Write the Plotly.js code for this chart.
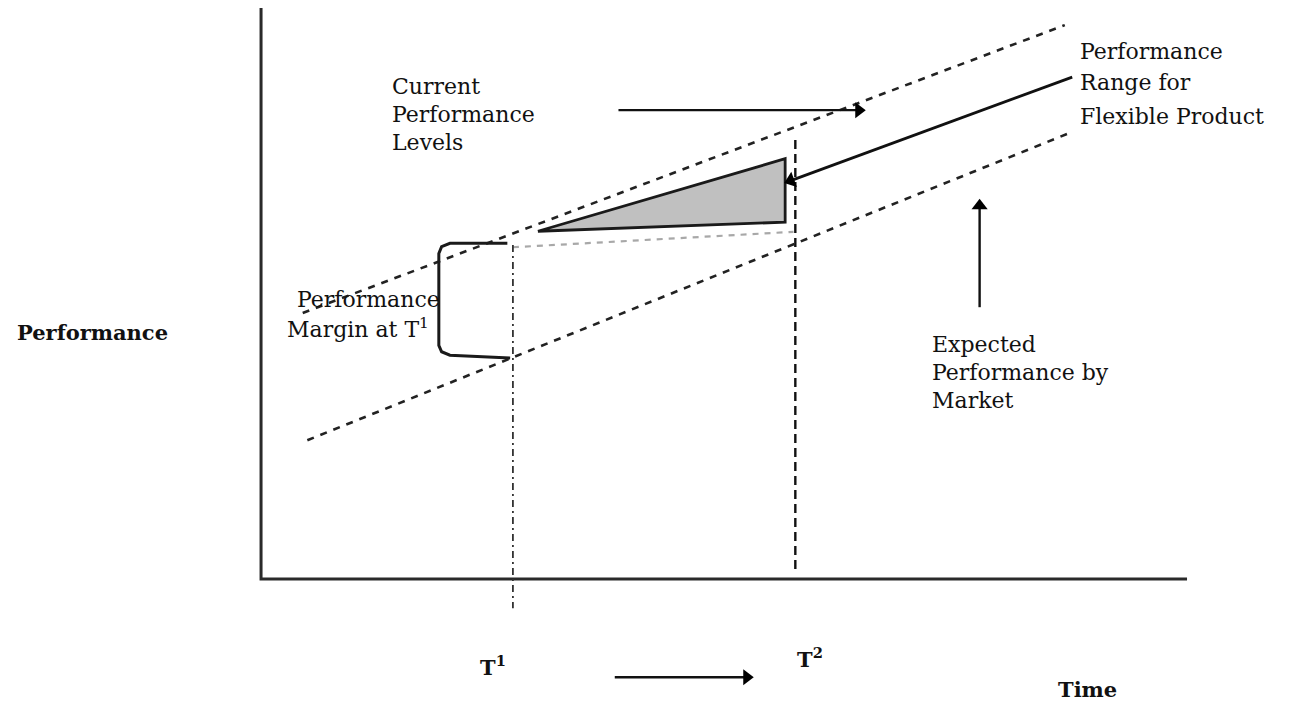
<!DOCTYPE html>
<html><head><meta charset="utf-8">
<script src="https://cdn.plot.ly/plotly-3.0.1.min.js"></script>
<style>html,body{margin:0;padding:0;background:#fff}#chart{width:1295px;height:704px}</style>
</head><body><div id="chart"></div>
<script>
// Diagram coordinates: Time 0-100 (x), Performance 0-100 (y)
const axisFrameX = [0, 0, 100];
const axisFrameY = [100, 0, 0];

const currentLevelX = [4.5, 86.8];
const currentLevelY = [46.6, 97.0];

const expectedLevelX = [5.0, 87.3];
const expectedLevelY = [24.3, 78.1];

const wedgeX = [29.9, 56.6, 56.6, 29.9];
const wedgeY = [60.9, 73.6, 62.5, 60.9];

const marginLinkX = [27.2, 57.5];
const marginLinkY = [58.1, 60.8];

const t1LineX = [27.2, 27.2];
const t1LineY = [58.5, -5.1];
const t2LineX = [57.7, 57.7];
const t2LineY = [76.9, 1.6];

const bracketX = [26.6, 20.4, 19.5, 19.2, 19.2, 19.5, 20.4, 26.9];
const bracketY = [58.8, 58.8, 58.2, 57.0, 40.9, 39.8, 39.2, 38.7];

// arrows: tail -> head
const flexRangeArrowX = [87.6, 56.6];
const flexRangeArrowY = [87.9, 69.4];
const currentArrowX = [38.6, 65.2];
const currentArrowY = [82.1, 82.1];
const marketArrowX = [77.6, 77.6];
const marketArrowY = [47.6, 66.4];
const timeArrowX = [38.2, 53.1];
const timeArrowY = [-17.2, -17.2];

// text labels
const textLabels = ['Current', 'Performance', 'Levels',
  'Performance', 'Range for', 'Flexible Product',
  'Performance', 'Margin at T<sup>1</sup>',
  'Expected', 'Performance by', 'Market'];
const textX = [13.9, 13.9, 13.9, 88.2, 88.2, 88.2, 11.6, 10.5, 72.2, 72.2, 72.2];
const textY = [86.2, 81.3, 76.4, 92.3, 86.9, 81.0, 48.9, 44.0, 41.0, 36.1, 31.2];
const textAnchor = ['left','left','left','left','left','left','center','center','left','left','left'];

const boldLabels = ['Performance', 'T<sup>1</sup>', 'T<sup>2</sup>', 'Time'];
const boldX = [-18.2, 25.1, 59.3, 89.2];
const boldY = [43.1, -15.2, -13.8, -19.4];

function arrowTrace(xs, ys, w) {
  return {x: xs, y: ys, mode: 'lines+markers', line: {color: '#111', width: w},
    marker: {symbol: 'triangle-up', size: [0, 14], angleref: 'previous', standoff: 6,
      color: '#000', opacity: 1, line: {width: 0}}};
}

const traces = [
  {x: axisFrameX, y: axisFrameY, mode: 'lines', line: {color: '#2a2a2a', width: 3}},
  {x: currentLevelX, y: currentLevelY, mode: 'lines', line: {color: '#222', width: 2.6, dash: '7px,7px'}},
  {x: expectedLevelX, y: expectedLevelY, mode: 'lines', line: {color: '#222', width: 2.6, dash: '7px,7px'}},
  {x: marginLinkX, y: marginLinkY, mode: 'lines', line: {color: '#a8a8a8', width: 2.2, dash: '6px,6px'}},
  {x: wedgeX, y: wedgeY, mode: 'lines', fill: 'toself', fillcolor: '#c0c0c0', line: {color: '#1a1a1a', width: 2.8}},
  {x: t2LineX, y: t2LineY, mode: 'lines', line: {color: '#111', width: 2.4, dash: '9px,5px'}},
  {x: t1LineX, y: t1LineY, mode: 'lines', line: {color: '#333', width: 1.8, dash: '7px,4px,2px,4px'}},
  {x: bracketX, y: bracketY, mode: 'lines', line: {color: '#1a1a1a', width: 3}},
  arrowTrace(flexRangeArrowX, flexRangeArrowY, 2.8),
  arrowTrace(currentArrowX, currentArrowY, 2.2),
  arrowTrace(marketArrowX, marketArrowY, 2.4),
  arrowTrace(timeArrowX, timeArrowY, 2.4)
];

const annotations = [];
textLabels.forEach((t, i) => {
  annotations.push({x: textX[i], y: textY[i], xref: 'x', yref: 'y', text: t, showarrow: false,
    xanchor: textAnchor[i], yanchor: 'middle',
    font: {family: 'DejaVu Serif, serif', size: 22, color: '#111'}});
});
boldLabels.forEach((t, i) => {
  annotations.push({x: boldX[i], y: boldY[i], xref: 'x', yref: 'y', text: '<b>' + t + '</b>', showarrow: false,
    xanchor: 'center', yanchor: 'middle',
    font: {family: 'DejaVu Serif, serif', size: 21, color: '#111'}});
});

const layout = {
  width: 1295, height: 704,
  margin: {l: 0, r: 0, t: 0, b: 0},
  paper_bgcolor: '#fff', plot_bgcolor: '#fff',
  showlegend: false,
  xaxis: {range: [-28.19, 111.66], visible: false, fixedrange: true},
  yaxis: {range: [-21.89, 101.40], visible: false, fixedrange: true},
  annotations: annotations
};

Plotly.newPlot('chart', traces, layout, {displayModeBar: false, staticPlot: true});
</script>
</body></html>
